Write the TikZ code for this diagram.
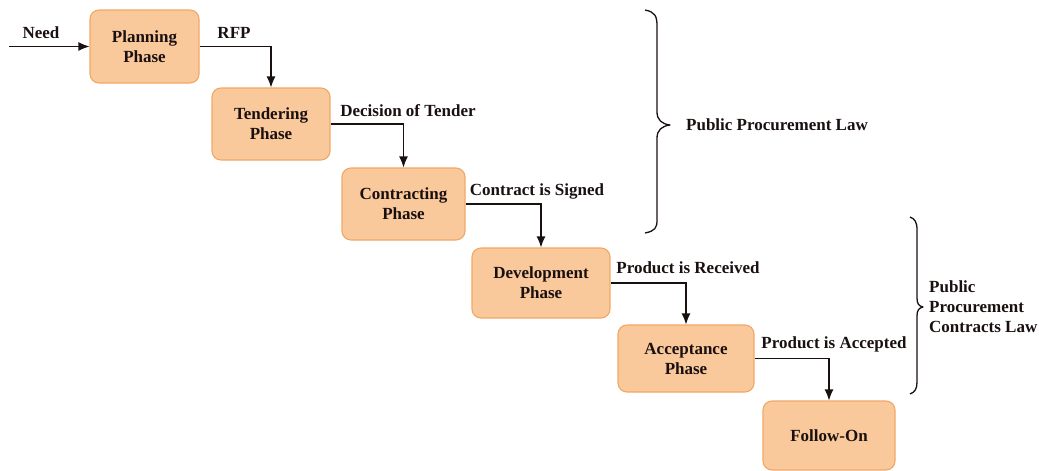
\documentclass[tikz,border=0pt]{standalone}
\usepackage{fontspec}
\setmainfont{Liberation Serif}
\usetikzlibrary{arrows.meta}
\definecolor{phasefill}{HTML}{FAC99B}
\definecolor{phaseedge}{HTML}{F0A868}
\definecolor{inkdark}{HTML}{1A1010}
\begin{document}
\begin{tikzpicture}[x=1pt,y=-1pt,
  every node/.style={font=\bfseries\fontsize{17}{20}\selectfont, text=inkdark},
  phase/.style={draw=phaseedge, fill=phasefill, line width=1.1pt,
    rounded corners=9pt, align=center, inner sep=0pt},
  flow/.style={draw=inkdark, line width=1.2pt, -{Latex[length=11pt,width=9pt]}},
  lbl/.style={inner sep=0pt},
  bracepath/.style={draw=inkdark, line width=1.3pt, line join=round}]
\useasboundingbox (0,0) rectangle (1039,471);

% phases
\node[phase, minimum width=109pt, minimum height=73pt] (plan) at (144.5,46.5) {Planning\\Phase};
\node[phase, minimum width=118pt, minimum height=72pt] (tend) at (271,124) {Tendering\\Phase};
\node[phase, minimum width=123pt, minimum height=72pt] (contr) at (403.5,204) {Contracting\\Phase};
\node[phase, minimum width=138pt, minimum height=70pt] (dev) at (541,283) {Development\\Phase};
\node[phase, minimum width=136pt, minimum height=67pt] (acc) at (686,358.5) {Acceptance\\Phase};
\node[phase, minimum width=132pt, minimum height=69pt] (fol) at (829,435.5) {Follow-On};

% incoming need
\coordinate (need) at (9,46.5);
\draw[flow] (need) -- (plan.west);

% transitions between phases
\draw[flow] (plan.east) -| (tend.north);
\draw[flow] (tend.east) -| (contr.north);
\draw[flow] (contr.east) -| (dev.north);
\draw[flow] (dev.east) -| (acc.north);
\draw[flow] (acc.east) -| (fol.north);

% transition labels
\node[lbl] (lneed) at (41,33) {Need};
\node[lbl] (lrfp) at (234,33) {RFP};
\node[lbl] (ldec) at (408,111) {Decision of Tender};
\node[lbl] (lsig) at (537,191) {Contract is Signed};
\node[lbl] (lrec) at (688,268) {Product is Received};
\node[lbl] (lacc) at (834,344) {Product is Accepted};

% law braces
\draw[bracepath] (645,10) .. controls (655,12) and (657,16) .. (657,26)
  -- (657,112) .. controls (657,120) and (662,124) .. (670,125)
  .. controls (662,126) and (657,130) .. (657,138)
  -- (657,220) .. controls (657,228) and (655,231) .. (645,233);
\node[lbl, anchor=west] (lawa) at (686,125) {Public Procurement Law};

\draw[bracepath] (910,217) .. controls (915,219) and (917,222) .. (917,230)
  -- (917,298) .. controls (917,304) and (919,306) .. (923,307)
  .. controls (919,308) and (917,310) .. (917,316)
  -- (917,382) .. controls (917,389) and (915,392) .. (910,394);
\node[lbl, anchor=west, align=left] (lawb) at (929,307) {Public\\Procurement\\Contracts Law};
\end{tikzpicture}
\end{document}
